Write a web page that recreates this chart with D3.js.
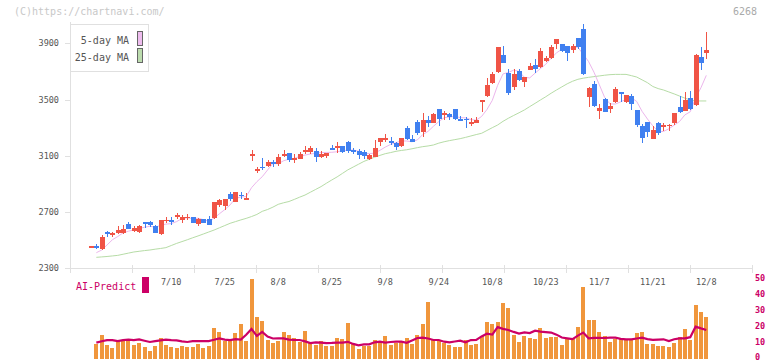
<!DOCTYPE html>
<html><head><meta charset="utf-8">
<script src="https://cdn.jsdelivr.net/npm/d3@7"></script>
<style>body{margin:0;background:#fff}svg{display:block}</style>
</head><body><svg id="c" width="772" height="361"></svg>
<script>
const opens=[2456,2461,2437,2556,2544,2549,2553,2617,2565,2558,2629,2632,2601,2544,2641,2643,2673,2644,2660,2665,2617,2651,2648,2658,2750,2743,2828,2771,2822,2788,
3105,2992,3022,3030,3058,3039,3101,3120,3079,3080,3125,3129,3134,3094,3101,3158,3158,3170,3198,3144,3134,3125,3077,3094,3198,3212,3208,3189,3170,3295,
3219,3343,3272,3355,3336,3430,3398,3395,3430,3359,3364,3336,3336,3488,3525,3615,3696,3819,3687,3592,3703,3627,3710,3746,3734,3777,3798,3895,3895,3881,
3852,3935,4002,3518,3611,3421,3502,3435,3485,3554,3485,3525,3426,3312,3338,3217,3331,3303,3317,3331,3445,3421,3509,3461,3803,3833];
const highs=[2460,2470,2537,2565,2561,2601,2608,2627,2603,2610,2631,2634,2606,2646,2665,2665,2693,2679,2689,2667,2655,2653,2674,2771,2793,2793,2840,2843,2840,2833,
3141,3023,3082,3068,3068,3115,3139,3120,3110,3125,3170,3170,3153,3134,3120,3179,3198,3170,3208,3158,3146,3139,3110,3212,3229,3253,3231,3198,3229,3312,
3248,3352,3407,3383,3407,3430,3419,3407,3430,3383,3378,3366,3378,3497,3651,3696,3874,3881,3715,3715,3720,3663,3762,3786,3864,3812,3886,3931,3895,3881,
3895,3935,4037,3592,3630,3468,3511,3473,3592,3554,3530,3540,3426,3326,3338,3312,3340,3336,3324,3407,3525,3554,3561,3824,3876,3980];
const lows=[2452,2440,2430,2525,2520,2544,2546,2577,2561,2549,2589,2596,2549,2535,2625,2608,2653,2625,2641,2623,2603,2623,2606,2653,2738,2715,2781,2771,2790,2788,
3065,2980,2999,3018,3023,3030,3094,3058,3046,3075,3110,3113,3058,3082,3082,3144,3122,3122,3122,3115,3080,3077,3073,3094,3170,3198,3177,3144,3165,3212,
3198,3248,3236,3307,3331,3314,3355,3355,3355,3355,3295,3314,3331,3414,3516,3611,3691,3758,3532,3568,3632,3592,3710,3687,3722,3770,3791,3857,3836,3776,
3833,3862,3675,3450,3450,3364,3414,3407,3478,3485,3478,3426,3307,3194,3236,3217,3248,3279,3279,3319,3407,3421,3426,3454,3710,3788];
const closes=[2458,2447,2520,2542,2549,2572,2577,2580,2587,2601,2615,2610,2553,2644,2646,2638,2677,2667,2665,2625,2648,2625,2610,2771,2786,2793,2793,2843,2818,2802,
3110,3006,3018,3058,3040,3092,3115,3073,3084,3115,3139,3153,3094,3115,3120,3144,3172,3127,3137,3125,3106,3101,3106,3156,3224,3224,3194,3165,3224,3219,
3198,3260,3355,3336,3400,3362,3402,3378,3359,3357,3355,3340,3355,3494,3601,3682,3874,3758,3549,3682,3639,3663,3739,3717,3843,3795,3876,3931,3845,3833,
3881,3871,3682,3582,3457,3440,3414,3454,3573,3540,3530,3466,3319,3224,3272,3283,3265,3319,3322,3402,3414,3497,3430,3817,3762,3852];
const ma5=[null,2411,2430,2466,2503,2526,2552,2564,2573,2583,2592,2599,2593,2605,2614,2618,2632,2654,2659,2654,2656,2646,2635,2656,2688,2717,2751,2797,2807,2810,
2873,2916,2951,2999,3046,3043,3065,3076,3081,3096,3105,3113,3117,3123,3124,3125,3129,3136,3140,3141,3133,3119,3115,3119,3139,3162,3181,3193,3206,3205,
3200,3213,3251,3274,3310,3343,3371,3376,3380,3372,3370,3358,3353,3380,3429,3494,3601,3682,3693,3709,3700,3658,3654,3688,3720,3751,3794,3832,3858,3856,
3873,3872,3822,3770,3695,3606,3515,3469,3468,3484,3502,3513,3486,3416,3362,3313,3273,3273,3292,3318,3344,3391,3413,3512,3584,3672];
const ma25=[null,2378,2381,2384,2388,2392,2400,2408,2416,2421,2426,2430,2436,2441,2447,2462,2477,2490,2503,2517,2530,2544,2558,2572,2588,2604,2620,2632,2644,2655,
2668,2683,2705,2718,2735,2755,2766,2775,2790,2806,2821,2841,2861,2881,2905,2928,2950,2975,3000,3020,3040,3060,3075,3090,3103,3115,3123,3132,3138,3143,
3150,3158,3165,3170,3177,3190,3200,3208,3215,3222,3231,3241,3251,3260,3280,3300,3319,3345,3367,3387,3406,3426,3450,3473,3497,3520,3545,3568,3590,3612,
3630,3644,3652,3658,3663,3668,3673,3677,3679,3679,3679,3670,3660,3640,3620,3593,3578,3568,3554,3540,3525,3510,3497,3490,3490,3490];
const volume=[null,440,710,400,320,560,560,580,410,470,350,230,380,620,410,350,320,380,350,350,440,320,380,920,800,530,590,770,1040,530,
2400,1250,1130,560,470,530,800,710,620,500,830,470,410,530,380,380,620,590,1070,440,290,380,380,560,500,680,410,470,
510,630,440,710,1040,1700,590,560,470,410,350,350,560,410,440,680,1100,1040,1100,1670,1520,710,500,680,620,590,920,620,650,650,410,590,620,950,2150,1160,1160,800,680,500,590,590,590,590,770,800,440,440,380,380,350,470,650,890,560,1610,1400,1250];
const aiPredict=[null,9.6,10.5,11.2,11.2,10.6,11.2,11.5,11.2,11.6,10.8,10,10.5,11,11.5,11.2,11,10.4,10,10.5,10.6,10.6,10.6,11.4,12.3,11.5,11.2,11.8,11.5,14.5,
18.1,13.8,16.3,13.4,12.2,12.3,12.3,11.5,11.25,11.25,10.4,9.3,9.8,9.6,9.3,9.4,9.6,9.6,10.1,8.8,7.9,8.5,8.5,9.8,10.2,9.6,10,10.2,10.2,9.5,
11,12.5,12.7,12.2,11.25,11.25,10.2,9.8,10.3,10.8,9.8,11.2,11.25,13.5,15.2,14.6,19.3,18.2,17.5,16.3,15.3,16,15.6,17.1,16.5,16.2,15.9,14.6,12.8,12.3,
11.8,14,15.9,12.3,12.6,12.6,12.5,12.7,12.7,12,11.7,11.7,12.2,12.7,11.8,11.3,11.5,11.7,10.6,11.7,12.3,12.3,13,19.6,18.5,17.5];
const xLabelIndex=[15,25,35,45,55,65,75,85,95,105,115];
const xLabelText=["7/10","7/25","8/8","8/25","9/8","9/24","10/8","10/23","11/7","11/21","12/8"];
const yTicks=[2300,2700,3100,3500,3900];
const aiTicks=[0,10,20,30,40,50];

const svg=d3.select("#c");
const mono="'DejaVu Sans Mono', 'Liberation Mono', monospace";
const x=d3.scaleLinear().domain([0,115]).range([91,706.3]);
const y=d3.scaleLinear().domain([2300,3900]).range([268.3,43.3]);
const yv=d3.scaleLinear().domain([0,2400]).range([358.7,278.7]);
const ya=d3.scaleLinear().domain([0,50]).range([358,278]);
const gridX=d3.scaleLinear().domain([0,11]).range([70,752]);
const RED="#f05446", BLUE="#4080f0";

// header
svg.append("text").attr("x",14).attr("y",15).attr("font-family",mono).attr("font-size",10).attr("fill","#c8c8c8").text("(C)https://chartnavi.com/");
svg.append("text").attr("x",757).attr("y",15).attr("text-anchor","end").attr("font-family",mono).attr("font-size",10).attr("fill","#aaa").text("6268");

// axes lines
svg.append("line").attr("x1",70.5).attr("x2",70.5).attr("y1",22).attr("y2",268).attr("stroke","#e0e0e0");
svg.append("line").attr("x1",70).attr("x2",752).attr("y1",268.5).attr("y2",268.5).attr("stroke","#e0e0e0");
svg.selectAll(".gx").data(d3.range(12)).join("line").attr("x1",d=>Math.round(gridX(d))+0.5).attr("x2",d=>Math.round(gridX(d))+0.5)
  .attr("y1",265).attr("y2",273).attr("stroke","#e0e0e0");
// y ticks
svg.selectAll(".yt").data(yTicks).join("line").attr("x1",65).attr("x2",70).attr("y1",d=>Math.round(y(d))+0.5).attr("y2",d=>Math.round(y(d))+0.5).attr("stroke","#e0e0e0");
svg.selectAll(".yl").data(yTicks).join("text").attr("x",59).attr("y",d=>y(d)+3).attr("text-anchor","end")
  .attr("font-family",mono).attr("font-size",8.5).attr("fill","#555").text(d=>d);

// MA lines
const maLine=arr=>d3.line().defined(d=>d!=null).x((d,i)=>x(i)).y(d=>y(d))(arr);
svg.append("path").attr("d",maLine(ma25)).attr("fill","none").attr("stroke","#b6dca6").attr("stroke-width",1);
svg.append("path").attr("d",maLine(ma5)).attr("fill","none").attr("stroke","#ecb6ec").attr("stroke-width",1);

// candles
const idx=d3.range(opens.length);
const g=svg.append("g").attr("shape-rendering","crispEdges");
g.selectAll(".w").data(idx).join("line")
  .attr("x1",i=>Math.round(x(i))+0.5).attr("x2",i=>Math.round(x(i))+0.5)
  .attr("y1",i=>y(highs[i])).attr("y2",i=>y(lows[i]))
  .attr("stroke",i=>closes[i]>=opens[i]?RED:BLUE).attr("stroke-width",1);
g.selectAll(".b").data(idx).join("rect")
  .attr("x",i=>Math.round(x(i))-2).attr("width",5)
  .attr("y",i=>y(Math.max(opens[i],closes[i])))
  .attr("height",i=>Math.max(1.5,Math.abs(y(opens[i])-y(closes[i]))))
  .attr("fill",i=>closes[i]>=opens[i]?RED:BLUE);

// legend
svg.append("rect").attr("x",70.5).attr("y",24.5).attr("width",78).attr("height",47).attr("fill","#fff").attr("stroke","#e0e0e0");
svg.append("text").attr("x",129).attr("y",44).attr("text-anchor","end").attr("font-family",mono).attr("font-size",10).attr("fill","#555").text("5-day MA");
svg.append("text").attr("x",129).attr("y",61).attr("text-anchor","end").attr("font-family",mono).attr("font-size",10).attr("fill","#555").text("25-day MA");
svg.append("rect").attr("x",137.5).attr("y",31.5).attr("width",5).attr("height",14).attr("fill","#eebcee").attr("stroke","#666");
svg.append("rect").attr("x",137.5).attr("y",48.5).attr("width",5).attr("height",14).attr("fill","#bcdcae").attr("stroke","#666");

// x labels
svg.selectAll(".xl").data(xLabelIndex).join("text").attr("x",d=>x(d)).attr("y",285).attr("text-anchor","middle")
  .attr("font-family",mono).attr("font-size",8.5).attr("fill","#555").text((d,k)=>xLabelText[k]);

// volume
svg.append("g").attr("shape-rendering","crispEdges").selectAll("rect").data(idx.filter(i=>volume[i]!=null)).join("rect")
  .attr("x",i=>Math.round(x(i))-2).attr("width",4)
  .attr("y",i=>yv(volume[i])).attr("height",i=>yv(0)-yv(volume[i])).attr("fill","#f0963c");

// AI predict
svg.append("path").attr("d",d3.line().defined(d=>d!=null).x((d,i)=>x(i)).y(d=>ya(d))(aiPredict))
  .attr("fill","none").attr("stroke","#cc0066").attr("stroke-width",2.2);
svg.append("text").attr("x",76).attr("y",290).attr("font-family",mono).attr("font-size",10).attr("fill","#cc0066").text("AI-Predict");
svg.append("rect").attr("x",142).attr("y",277).attr("width",7).attr("height",16).attr("fill","#cc0066");
svg.selectAll(".al").data(aiTicks).join("text").attr("x",755).attr("y",d=>Math.min(ya(d)+3,359.5)).attr("font-family",mono)
  .attr("font-size",8.5).attr("font-weight","bold").attr("fill","#cc0066").text(d=>d);
</script></body></html>
